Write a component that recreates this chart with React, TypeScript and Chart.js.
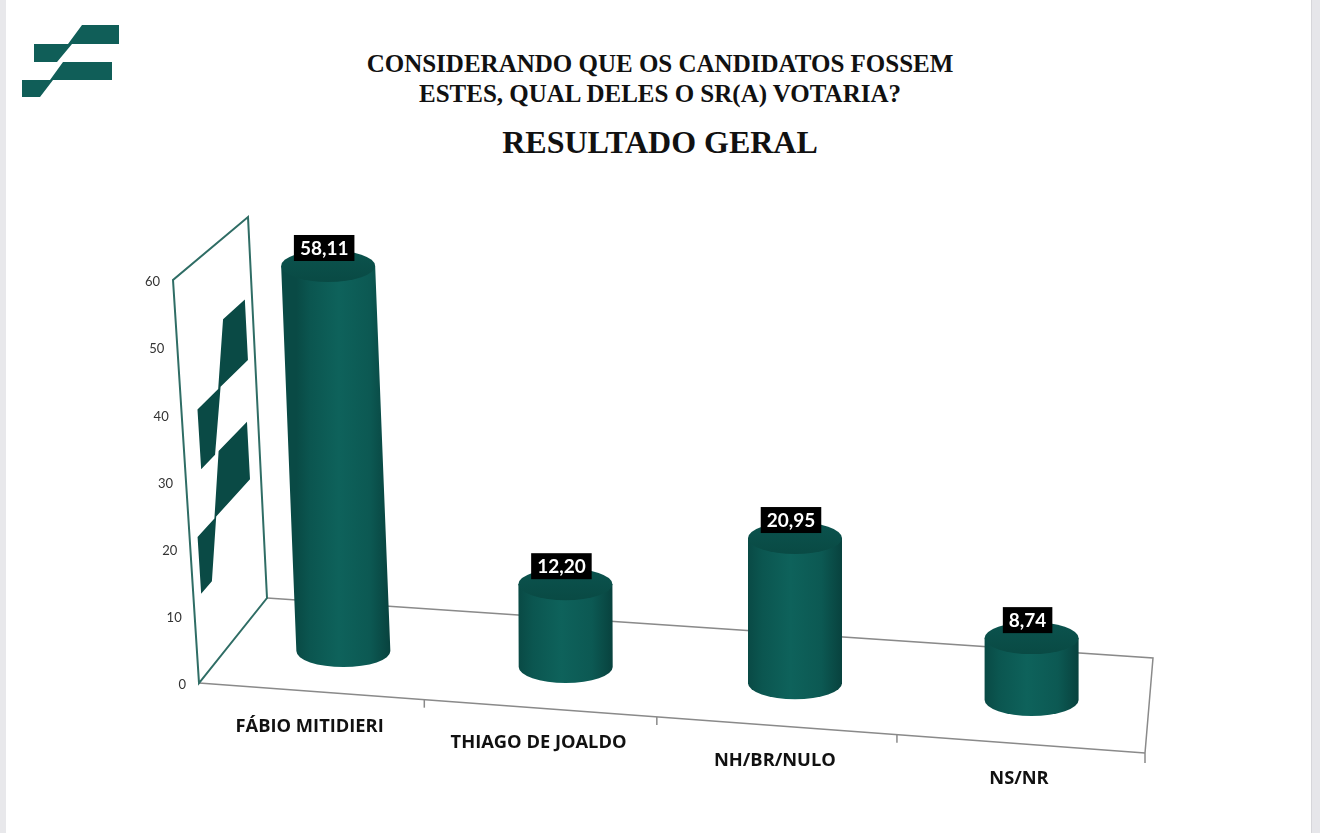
import React, { useEffect, useRef } from "react";
import { Chart, registerables } from "chart.js";

Chart.register(...registerables);

// ---------- data ----------
const categories = ["FÁBIO MITIDIERI", "THIAGO DE JOALDO", "NH/BR/NULO", "NS/NR"];
const values = [58.11, 12.2, 20.95, 8.74];
const yMin = 0;
const yMax = 60;
const yStep = 10;

const titleLine1 = "CONSIDERANDO QUE OS CANDIDATOS FOSSEM";
const titleLine2 = "ESTES, QUAL DELES O SR(A) VOTARIA?";
const subtitle = "RESULTADO GERAL";

// ---------- geometry / style ----------
type P = { x: number; y: number };
const F0: P = { x: 199, y: 683 }; // front-left floor corner
const F1: P = { x: 1145, y: 753 }; // front-right
const B1: P = { x: 1153, y: 658 }; // back-right
const B0: P = { x: 267, y: 598 }; // back-left
const HLF: P = { x: -26, y: -403 };
const HLB: P = { x: -19, y: -381 };
const HRF_Y = -440;
const HRB_Y = -416;
const LEAN_FADE_U = 0.4;
const BAR_DEPTH = 0.45;
const BAR_SHIFT_X = 4;
const RX = 47;
const RY = 16;

const LOGO_UPPER: [number, number][] = [
  [34, 44], [68, 44], [82, 25], [119, 25], [119, 44], [72, 44], [57, 62], [34, 62],
];
const LOGO_LOWER: [number, number][] = [
  [22, 80], [50, 80], [63, 62], [112, 62], [112, 80], [53, 80], [40, 97], [22, 97],
];

function homography(p0: P, p1: P, p2: P, p3: P) {
  const dx1 = p1.x - p2.x, dx2 = p3.x - p2.x, dx3 = p0.x - p1.x + p2.x - p3.x;
  const dy1 = p1.y - p2.y, dy2 = p3.y - p2.y, dy3 = p0.y - p1.y + p2.y - p3.y;
  const den = dx1 * dy2 - dx2 * dy1;
  const g = (dx3 * dy2 - dx2 * dy3) / den;
  const h = (dx1 * dy3 - dx3 * dy1) / den;
  const a = p1.x - p0.x + g * p1.x, b = p3.x - p0.x + h * p3.x, c = p0.x;
  const d = p1.y - p0.y + g * p1.y, e = p3.y - p0.y + h * p3.y, f = p0.y;
  return (u: number, v: number): P => {
    const w = g * u + h * v + 1;
    return { x: (a * u + b * v + c) / w, y: (d * u + e * v + f) / w };
  };
}

const floorAt = homography(F0, F1, B1, B0);
function hvec(u: number, d: number): P {
  const lx = HLF.x + (HLB.x - HLF.x) * d;
  const ly = HLF.y + (HLB.y - HLF.y) * d;
  const ry = HRF_Y + (HRB_Y - HRF_Y) * d;
  const lean = Math.max(0, 1 - u / LEAN_FADE_U);
  return { x: lx * lean, y: ly + (ry - ly) * u };
}
function pt(u: number, d: number, t: number): P {
  const f = floorAt(u, d);
  const h = hvec(u, d);
  return { x: f.x + h.x * t, y: f.y + h.y * t };
}

function drawCylinder(ctx: CanvasRenderingContext2D, B: P, T: P) {
  const grad = ctx.createLinearGradient(B.x - RX, 0, B.x + RX, 0);
  grad.addColorStop(0, "#094a45");
  grad.addColorStop(0.15, "#0b5650");
  grad.addColorStop(0.45, "#0e625b");
  grad.addColorStop(0.78, "#0c5953");
  grad.addColorStop(1, "#08423e");
  ctx.beginPath();
  ctx.moveTo(T.x - RX, T.y);
  ctx.lineTo(B.x - RX, B.y);
  ctx.ellipse(B.x, B.y, RX, RY, 0, Math.PI, 0, true);
  ctx.lineTo(T.x + RX, T.y);
  ctx.closePath();
  ctx.fillStyle = grad;
  ctx.fill();
  const tg = ctx.createLinearGradient(0, T.y - RY, 0, T.y + RY);
  tg.addColorStop(0, "#0b534e");
  tg.addColorStop(1, "#094a44");
  ctx.beginPath();
  ctx.ellipse(T.x, T.y, RX, RY, 0, 0, Math.PI * 2);
  ctx.fillStyle = tg;
  ctx.fill();
}

const scenePlugin = {
  id: "scene3d",
  afterDraw(chart: any) {
    const ctx: CanvasRenderingContext2D = chart.ctx;
    const area = chart.chartArea;
    const xs = chart.scales.x;
    const ys = chart.scales.y;
    const tOf = (v: number) => (area.bottom - ys.getPixelForValue(v)) / (area.bottom - area.top);
    const uOf = (px: number) => (px - area.left) / (area.right - area.left);
    const half = (xs.getPixelForValue(1) - xs.getPixelForValue(0)) / 2;
    ctx.save();

    // wall
    const w0 = pt(0, 0, 0), w1 = pt(0, 0, 1), w2 = pt(0, 1, 1), w3 = pt(0, 1, 0);
    // wall logo
    const mapLogo = (lx: number, ly: number) => {
      const d = 0.1 + (0.8 * (lx - 22)) / 97;
      const h = 48 - (36 * (ly - 25)) / 72;
      return pt(0, d, h / yMax);
    };
    ctx.fillStyle = "#0a4a45";
    [LOGO_UPPER, LOGO_LOWER].forEach((poly) => {
      ctx.beginPath();
      poly.forEach(([lx, ly], i) => {
        const p = mapLogo(lx, ly);
        if (i === 0) ctx.moveTo(p.x, p.y);
        else ctx.lineTo(p.x, p.y);
      });
      ctx.closePath();
      ctx.fill();
    });

    // floor
    ctx.strokeStyle = "#8a8a8a";
    ctx.lineWidth = 1.5;
    const fb0 = pt(0, 1, 0), fb1 = pt(1, 1, 0), ff1 = pt(1, 0, 0);
    ctx.beginPath();
    ctx.moveTo(fb0.x, fb0.y);
    ctx.lineTo(fb1.x, fb1.y);
    ctx.lineTo(ff1.x, ff1.y);
    ctx.lineTo(ff1.x, ff1.y + 10);
    ctx.stroke();
    ctx.beginPath();
    ctx.moveTo(w0.x, w0.y);
    ctx.lineTo(ff1.x, ff1.y);
    ctx.stroke();
    const bounds: P[] = [];
    for (let i = 0; i <= categories.length; i++) {
      const px = xs.getPixelForValue(0) - half + i * 2 * half;
      bounds.push(floorAt(uOf(px), 0));
    }
    for (let i = 1; i < categories.length; i++) {
      const p = bounds[i];
      ctx.beginPath();
      ctx.moveTo(p.x, p.y);
      ctx.lineTo(p.x, p.y + 8);
      ctx.stroke();
    }

    // wall frame
    ctx.strokeStyle = "#2f6d65";
    ctx.lineWidth = 2;
    ctx.beginPath();
    ctx.moveTo(w0.x, w0.y);
    ctx.lineTo(w1.x, w1.y);
    ctx.lineTo(w2.x, w2.y);
    ctx.lineTo(w3.x, w3.y);
    ctx.closePath();
    ctx.stroke();

    // bars
    const meta = chart.getDatasetMeta(0);
    const tops: P[] = [];
    meta.data.forEach((el: any, i: number) => {
      const u = uOf(el.x);
      const t = tOf(values[i]);
      const B0b = pt(u, BAR_DEPTH, 0);
      const T0b = pt(u, BAR_DEPTH, t);
      const B = { x: B0b.x + BAR_SHIFT_X, y: B0b.y };
      const T = { x: T0b.x + BAR_SHIFT_X, y: T0b.y };
      drawCylinder(ctx, B, T);
      tops.push(T);
    });

    // value labels
    ctx.font = 'bold 19px "Lato"';
    ctx.textAlign = "center";
    ctx.textBaseline = "middle";
    tops.forEach((T, i) => {
      const txt = values[i].toFixed(2).replace(".", ",");
      const w = ctx.measureText(txt).width + 12;
      const h = 26;
      const cx = T.x - 4;
      const bottom = T.y - RY + 11;
      ctx.fillStyle = "#000";
      ctx.fillRect(cx - w / 2, bottom - h, w, h);
      ctx.fillStyle = "#fff";
      ctx.fillText(txt, cx, bottom - h / 2 + 1);
    });

    // y tick labels
    ctx.font = '13px "Lato"';
    ctx.fillStyle = "#333";
    ctx.textAlign = "right";
    ys.ticks.forEach((tk: any) => {
      const p = pt(0, 0, tOf(tk.value));
      ctx.fillText(String(tk.value), p.x - 13, p.y + 2);
    });

    // category labels
    ctx.font = 'bold 18.3px "Open Sans"';
    ctx.fillStyle = "#111";
    ctx.textAlign = "center";
    categories.forEach((c, i) => {
      const a = bounds[i], b = bounds[i + 1];
      ctx.fillText(c, (a.x + b.x) / 2 - 2, (a.y + b.y) / 2 + 35);
    });

    ctx.restore();
  },
};

export default function App() {
  const ref = useRef<HTMLCanvasElement | null>(null);
  useEffect(() => {
    if (!ref.current) return;
    const chart = new Chart(ref.current, {
      type: "bar",
      data: {
        labels: categories,
        datasets: [
          {
            data: values,
            backgroundColor: "rgba(0,0,0,0)",
            borderWidth: 0,
          },
        ],
      },
      options: {
        responsive: false,
        animation: false,
        events: [],
        layout: { padding: { left: F0.x, right: 1320 - F1.x, top: 280, bottom: 833 - F0.y } },
        plugins: { legend: { display: false }, tooltip: { enabled: false }, title: { display: false } },
        scales: {
          x: { display: false, offset: true, grid: { display: false } },
          y: { display: false, min: yMin, max: yMax, ticks: { stepSize: yStep }, grid: { display: false } },
        },
      },
      plugins: [scenePlugin],
    });
    return () => chart.destroy();
  }, []);

  return (
    <div
      style={{
        position: "absolute",
        left: 0,
        top: 0,
        width: 1320,
        height: 833,
        background: "#fff",
        overflow: "hidden",
      }}
    >
      <div style={{ position: "absolute", left: 0, top: 0, width: 6, height: 833, background: "#e8e8eb" }} />
      <div style={{ position: "absolute", left: 1311, top: 0, width: 9, height: 833, background: "#e6e6ea", borderLeft: "1px solid #d6d6da" }} />
      <svg width={130} height={110} style={{ position: "absolute", left: 0, top: 0 }}>
        {[LOGO_UPPER, LOGO_LOWER].map((poly, i) => (
          <polygon key={i} points={poly.map((p) => p.join(",")).join(" ")} fill="#105e58" />
        ))}
      </svg>
      <div
        style={{
          position: "absolute",
          left: 0,
          top: 49,
          width: 1320,
          textAlign: "center",
          fontFamily: '"Liberation Serif", serif',
          fontWeight: "bold",
          fontSize: 25,
          lineHeight: "30px",
          color: "#111",
        }}
      >
        <div>{titleLine1}</div>
        <div>{titleLine2}</div>
      </div>
      <div
        style={{
          position: "absolute",
          left: 0,
          top: 122,
          width: 1320,
          textAlign: "center",
          fontFamily: '"Liberation Serif", serif',
          fontWeight: "bold",
          fontSize: 32,
          lineHeight: "40px",
          color: "#111",
        }}
      >
        {subtitle}
      </div>
      <canvas ref={ref} width={1320} height={833} style={{ position: "absolute", left: 0, top: 0, width: 1320, height: 833 }} />
    </div>
  );
}
